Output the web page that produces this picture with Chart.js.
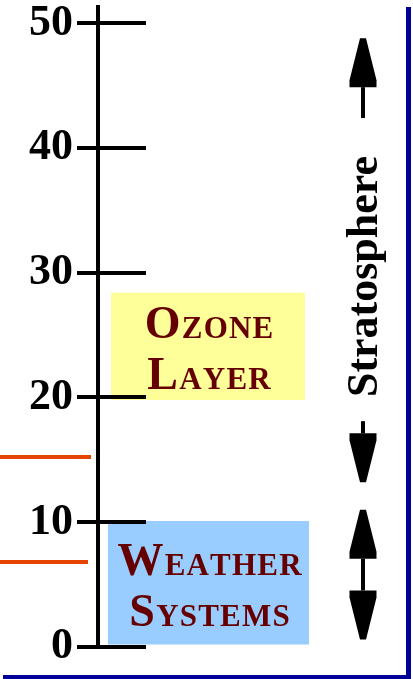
<!DOCTYPE html>
<html>
<head>
<meta charset="utf-8">
<script src="https://cdn.jsdelivr.net/npm/chart.js@4.4.1/dist/chart.umd.min.js"></script>
<style>
  html, body { margin: 0; padding: 0; background: #fff; }
  #wrap { width: 413px; height: 679px; position: relative; }
</style>
</head>
<body>
<div id="wrap"><canvas id="chart"></canvas></div>
<script>
// altitude axis (km)
const altTicks = [0, 10, 20, 30, 40, 50];
const altTop = 51.3;

// shaded bands
const bandLines = [['Ozone', 'Layer'], ['Weather', 'Systems']];
const bandBottom = [19.8, 0.2];
const bandTop = [28.4, 10.1];

// orange boundary marks on the left
const boundaryAlt = [15.2, 6.8];

// right-hand arrows
const sideLabel = 'Stratosphere';
const sideLabelAlt = 29.7;
const stratoUp = [42.4, 48.8];    // tail, tip
const stratoDown = [18.1, 13.2];  // tail, tip
const tropoBoth = [0.6, 11.0];    // lower tip, upper tip

// ── layout / style ─────────────────────────────────────────────
const SERIF = '"Liberation Serif", "Times New Roman", serif';
const TICK_RIGHT = 146;
const BAND_X = [[111, 305], [108, 309]];
const BAND_FILL = ['#ffff99', '#99ccff'];
const BAND_TEXT = '#660000';
const BOUNDARY_END = [91, 88];
const BOUNDARY_COLOR = '#e64500';
const ARROW_X = 363;
const SIDE_BASE_X = 377;
const FRAME = '#000099';

function smallCaps(ctx, word, cx, base, big, small, gap) {
  const chars = word.toUpperCase().split('');
  const sizes = chars.map((c, i) => (i === 0 ? big : small));
  const widths = chars.map((c, i) => {
    ctx.font = `bold ${sizes[i]}px ${SERIF}`;
    return ctx.measureText(c).width;
  });
  const total = widths.reduce((a, b) => a + b, 0) + gap * (chars.length - 1);
  let x = cx - total / 2;
  chars.forEach((c, i) => {
    ctx.font = `bold ${sizes[i]}px ${SERIF}`;
    ctx.fillText(c, x, base);
    x += widths[i] + gap;
  });
}

function arrowHead(ctx, cx, tipY, s) {
  // s = +1: points up (base below tip); s = -1: points down
  const len = 49, hw = 13.5, nb = 3, foot = 7;
  const baseY = tipY + s * len;
  const shoulderY = baseY - s * foot;
  ctx.beginPath();
  ctx.moveTo(cx - nb, tipY);
  ctx.lineTo(cx + nb, tipY);
  ctx.lineTo(cx + hw, shoulderY);
  ctx.lineTo(cx + hw, baseY);
  ctx.lineTo(cx - hw, baseY);
  ctx.lineTo(cx - hw, shoulderY);
  ctx.closePath();
  ctx.fill();
  return baseY;
}

function shaft(ctx, cx, y1, y2) {
  ctx.fillRect(cx - 2, Math.min(y1, y2), 4, Math.abs(y2 - y1));
}

const layersPlugin = {
  id: 'layers',
  afterDraw(chart) {
    const { ctx, chartArea } = chart;
    const y = chart.scales.y;
    ctx.save();

    // bands
    bandLines.forEach((lines, i) => {
      const top = y.getPixelForValue(bandTop[i]);
      const bot = y.getPixelForValue(bandBottom[i]);
      const [x0, x1] = BAND_X[i];
      ctx.fillStyle = BAND_FILL[i];
      ctx.fillRect(x0, top, x1 - x0, bot - top);
    });

    // tick extensions to the right of the axis
    ctx.strokeStyle = '#000';
    ctx.lineWidth = 4;
    y.ticks.forEach(t => {
      const py = Math.round(y.getPixelForValue(t.value));
      ctx.beginPath();
      ctx.moveTo(chartArea.left, py);
      ctx.lineTo(TICK_RIGHT, py);
      ctx.stroke();
    });

    // band text
    ctx.fillStyle = BAND_TEXT;
    ctx.textAlign = 'left';
    ctx.textBaseline = 'alphabetic';
    bandLines.forEach((lines, i) => {
      const top = y.getPixelForValue(bandTop[i]);
      const bot = y.getPixelForValue(bandBottom[i]);
      const cy = (top + bot) / 2;
      const cx = (BAND_X[i][0] + BAND_X[i][1]) / 2 + 1;
      smallCaps(ctx, lines[0], cx, cy - 8, 46, 31, 1.2);
      smallCaps(ctx, lines[1], cx, cy + 43, 46, 31, 1.2);
    });

    // boundary marks
    ctx.strokeStyle = BOUNDARY_COLOR;
    ctx.lineWidth = 4;
    boundaryAlt.forEach((a, i) => {
      const py = Math.round(y.getPixelForValue(a));
      ctx.beginPath();
      ctx.moveTo(0, py);
      ctx.lineTo(BOUNDARY_END[i], py);
      ctx.stroke();
    });

    // arrows
    ctx.fillStyle = '#000';
    let b = arrowHead(ctx, ARROW_X, y.getPixelForValue(stratoUp[1]), 1);
    shaft(ctx, ARROW_X, b, y.getPixelForValue(stratoUp[0]));
    b = arrowHead(ctx, ARROW_X, y.getPixelForValue(stratoDown[1]), -1);
    shaft(ctx, ARROW_X, b, y.getPixelForValue(stratoDown[0]));
    const bUp = arrowHead(ctx, ARROW_X, y.getPixelForValue(tropoBoth[1]), 1);
    const bDn = arrowHead(ctx, ARROW_X, y.getPixelForValue(tropoBoth[0]), -1);
    shaft(ctx, ARROW_X, bUp, bDn);

    // side label
    ctx.translate(SIDE_BASE_X, y.getPixelForValue(sideLabelAlt));
    ctx.rotate(-Math.PI / 2);
    ctx.font = `bold 44px ${SERIF}`;
    ctx.textAlign = 'center';
    ctx.fillText(sideLabel, 0, 0);
    ctx.setTransform(1, 0, 0, 1, 0, 0);

    // frame
    ctx.fillStyle = FRAME;
    ctx.fillRect(406, chartArea.top, 5, 679 - chartArea.top);
    ctx.fillRect(3, 675, 408, 4);

    ctx.restore();
  }
};

new Chart(document.getElementById('chart'), {
  type: 'line',
  data: { datasets: [] },
  options: {
    responsive: true,
    maintainAspectRatio: false,
    animation: false,
    layout: { padding: { left: 0, top: 7, right: 7, bottom: 32 } },
    plugins: { legend: { display: false }, tooltip: { enabled: false } },
    scales: {
      x: { type: 'linear', display: false, min: 0, max: 1 },
      y: {
        type: 'linear',
        min: 0,
        max: altTop,
        afterBuildTicks: s => { s.ticks = altTicks.map(v => ({ value: v })); },
        afterFit: s => { s.width = 98; s.paddingTop = 0; s.paddingBottom = 0; },
        border: { display: true, color: '#000', width: 4 },
        grid: { drawOnChartArea: false, drawTicks: true, tickLength: 21, color: '#000', lineWidth: 4 },
        ticks: {
          color: '#000',
          padding: 4,
          font: { family: 'Liberation Serif', weight: 'bold', size: 44 },
        },
      },
    },
  },
  plugins: [layersPlugin],
});
</script>
</body>
</html>
